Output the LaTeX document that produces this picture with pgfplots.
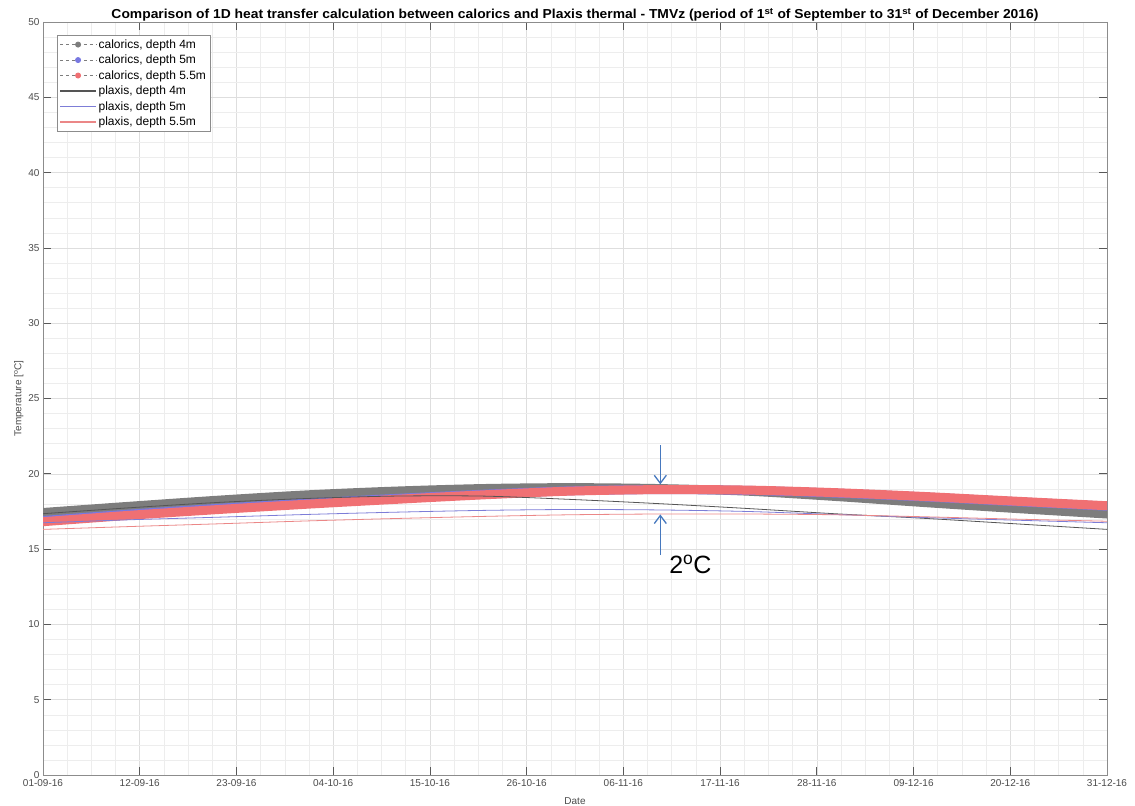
\documentclass[border=0pt]{standalone}
\usepackage{pgfplots}
\pgfplotsset{compat=1.18}
\usetikzlibrary{arrows.meta}
\usepackage{fontspec}
\setmainfont{Liberation Sans}
\usepackage{graphicx}
\definecolor{calgray}{RGB}{125,125,125}
\definecolor{calblue}{RGB}{120,120,225}
\definecolor{calred}{RGB}{240,112,115}
\definecolor{plxgray}{RGB}{85,85,85}
\definecolor{plxblue}{RGB}{125,125,215}
\definecolor{plxred}{RGB}{235,135,135}
\definecolor{arrowblue}{RGB}{70,120,190}
\definecolor{ticktext}{RGB}{75,75,75}

\pgfplotstableread{
day c4 c5 c55 p4 p5 p55
0   17.43 16.90 16.82 17.35 16.75 16.31
10  17.85 17.33 17.25 17.75 16.95 16.50
20  18.25 17.71 17.63 18.10 17.12 16.68
30  18.60 18.05 17.98 18.36 17.30 16.87
40  18.85 18.36 18.30 18.52 17.45 17.03
50  19.02 18.64 18.60 18.52 17.57 17.17
60  19.08 18.87 18.85 18.30 17.63 17.28
70  19.02 18.95 18.95 18.02 17.60 17.33
80  18.85 18.90 18.92 17.70 17.50 17.33
90  18.50 18.72 18.75 17.35 17.30 17.28
100 18.10 18.47 18.50 17.05 17.10 17.15
110 17.72 18.17 18.20 16.70 16.93 17.00
121 17.33 17.85 17.88 16.31 16.75 16.85
}\datatable

\begin{document}
\begin{tikzpicture}
\begin{axis}[
  scale only axis,
  width=1064bp, height=753bp,
  xmin=0, xmax=121, ymin=0, ymax=50,
  xtick={0,11,22,33,44,55,66,77,88,99,110,121},
  xticklabels={01-09-16,12-09-16,23-09-16,04-10-16,15-10-16,26-10-16,06-11-16,17-11-16,28-11-16,09-12-16,20-12-16,31-12-16},
  ytick={0,5,...,50},
  minor x tick num=3,
  minor y tick num=4,
  grid=both,
  major grid style={draw=black!13, line width=0.6bp},
  minor grid style={draw=black!7, line width=0.5bp},
  axis line style={draw=black!45, line width=0.8bp},
  tick align=inside,
  major tick length=8bp,
  minor tick length=0bp,
  tick style={draw=black!65, line width=0.7bp},
  /pgf/number format/assume math mode=true,
  tick label style={font=\fontsize{10bp}{12bp}\selectfont, text=ticktext},
  xticklabel style={yshift=-1bp},
  xlabel={Date},
  ylabel={Temperature [\textsuperscript{o}C]},
  label style={font=\fontsize{10bp}{12bp}\selectfont, text=ticktext},
  xlabel style={at={(axis description cs:0.5,0)}, anchor=north, yshift=-19bp},
  ylabel style={yshift=-2bp},
  title={\resizebox{927bp}{\height}{\fontsize{13bp}{16bp}\selectfont\bfseries Comparison of 1D heat transfer calculation between calorics and Plaxis thermal - TMVz (period of 1\textsuperscript{st} of September to 31\textsuperscript{st} of December 2016)}},
  title style={at={(axis description cs:0.5,1)}, anchor=base, yshift=-2.5bp, inner sep=0pt},
  legend style={at={(axis description cs:0.013,0.983)}, anchor=north west,
    font=\fontsize{12bp}{14bp}\selectfont, draw=black!45, fill=white,
    row sep=1.3bp, inner sep=2.5bp},
  legend cell align=left,
  legend image code/.code={\draw[mark repeat=2, mark phase=2, #1] plot coordinates {(0bp,0bp) (18bp,0bp) (36bp,0bp)};},
]
% calorics thick series
\addplot[calgray, line width=9bp, line cap=round, smooth, forget plot] table[x=day, y=c4] {\datatable};
\addplot[calblue, line width=9bp, line cap=round, smooth, forget plot] table[x=day, y=c5] {\datatable};
\addplot[calred, line width=9bp, line cap=round, smooth, forget plot] table[x=day, y=c55] {\datatable};
% plaxis thin series
\addplot[plxgray, line width=0.8bp, smooth, forget plot] table[x=day, y=p4] {\datatable};
\addplot[plxblue, line width=0.8bp, smooth, forget plot] table[x=day, y=p5] {\datatable};
\addplot[plxred, line width=0.8bp, smooth, forget plot] table[x=day, y=p55] {\datatable};
% legend entries
\addlegendimage{draw=calgray, dashed, line width=0.7bp, mark=*, mark size=2.6bp, mark options={solid, draw=calgray, fill=calgray}}
\addlegendentry{calorics, depth 4m}
\addlegendimage{draw=calgray, dashed, line width=0.7bp, mark=*, mark size=2.6bp, mark options={solid, draw=calblue, fill=calblue}}
\addlegendentry{calorics, depth 5m}
\addlegendimage{draw=calgray, dashed, line width=0.7bp, mark=*, mark size=2.6bp, mark options={solid, draw=calred, fill=calred}}
\addlegendentry{calorics, depth 5.5m}
\addlegendimage{draw=plxgray, line width=1.1bp}
\addlegendentry{plaxis, depth 4m}
\addlegendimage{draw=plxblue, line width=1.1bp}
\addlegendentry{plaxis, depth 5m}
\addlegendimage{draw=plxred, line width=1.1bp}
\addlegendentry{plaxis, depth 5.5m}
% annotation
\draw[arrowblue, line width=1.3bp, -{Straight Barb[length=8bp, width=12bp]}] (axis cs:70.2,21.9) -- (axis cs:70.2,19.3);
\draw[arrowblue, line width=1.3bp, -{Straight Barb[length=8bp, width=12bp]}] (axis cs:70.2,14.6) -- (axis cs:70.2,17.3);
\node[anchor=west, font=\fontsize{25bp}{28bp}\selectfont, inner sep=0pt] at (axis cs:71.2,14.0) {2\textsuperscript{o}C};
\end{axis}
\pgfresetboundingbox
\path ([shift={(-43bp,-30bp)}]current axis.south west) rectangle ([shift={(28bp,22bp)}]current axis.north east);
\end{tikzpicture}
\end{document}
